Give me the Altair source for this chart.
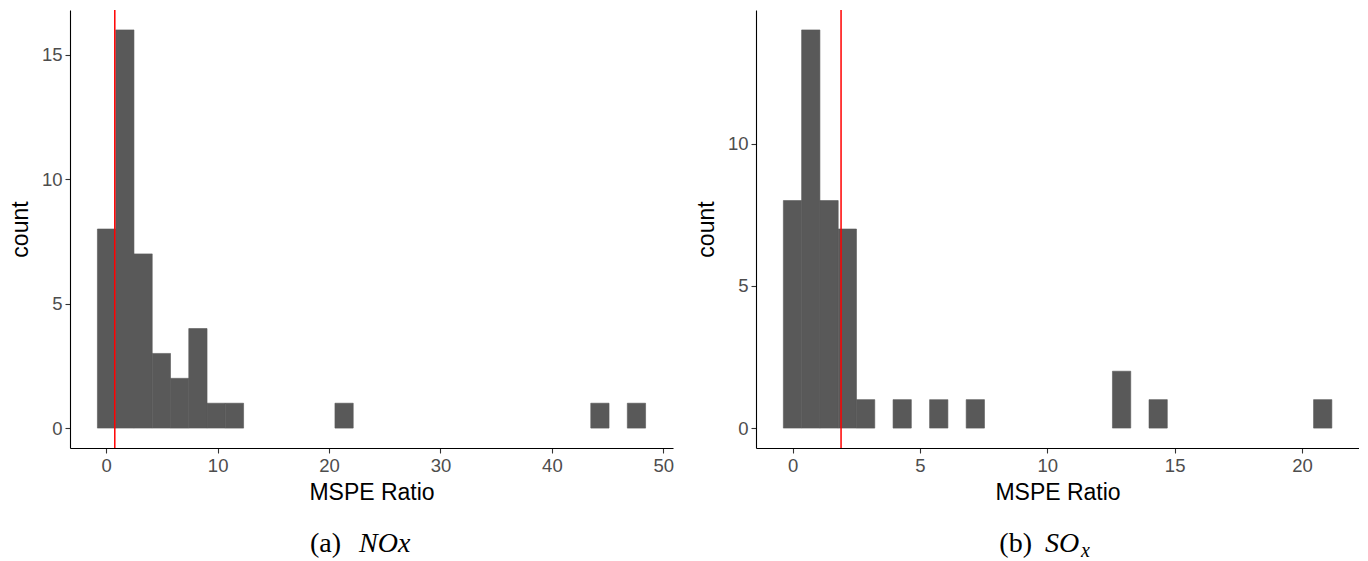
import altair as alt
import pandas as pd

# Histogram of MSPE ratios, 30 bins each (counts per bin, left to right)
nox_bin_start = -0.79
nox_bin_width = 1.64
nox_counts = [8, 16, 7, 3, 2, 4, 1, 1, 0, 0, 0, 0, 0, 1, 0,
              0, 0, 0, 0, 0, 0, 0, 0, 0, 0, 0, 0, 1, 0, 1]
nox_treated = 0.77
nox_xdomain = [-3.25, 50.87]
nox_ydomain = [-0.8, 16.8]
nox_xticks = [0, 10, 20, 30, 40, 50]
nox_yticks = [0, 5, 10, 15]

sox_bin_start = -0.366
sox_bin_width = 0.718
sox_counts = [8, 14, 8, 7, 1, 0, 1, 0, 1, 0, 1, 0, 0, 0, 0,
              0, 0, 0, 2, 0, 1, 0, 0, 0, 0, 0, 0, 0, 0, 1]
sox_treated = 1.90
sox_xdomain = [-1.44, 22.24]
sox_ydomain = [-0.7, 14.7]
sox_xticks = [0, 5, 10, 15, 20]
sox_yticks = [0, 5, 10]

PANEL_W = 603
PANEL_H = 438
BAR_FILL = "#595959"
SANS = "Liberation Sans"
SERIF = "Liberation Serif"


def bins_frame(start, width, counts):
    rows = []
    for i, c in enumerate(counts):
        if c > 0:
            lo = start + i * width
            rows.append({"lo": lo, "hi": lo + width, "count": c})
    return pd.DataFrame(rows)


def panel(start, width, counts, treated, xdom, ydom, xticks, yticks, label, parts):
    bars_df = bins_frame(start, width, counts)
    xscale = alt.Scale(domain=xdom, nice=False, zero=False)
    yscale = alt.Scale(domain=ydom, nice=False, zero=False)

    bars = alt.Chart(bars_df).mark_rect(
        fill=BAR_FILL, stroke=BAR_FILL, strokeWidth=0.6
    ).encode(
        x=alt.X("lo:Q", scale=xscale,
                axis=alt.Axis(title="MSPE Ratio", values=xticks, titlePadding=7)),
        x2="hi:Q",
        y=alt.Y("count:Q", scale=yscale,
                axis=alt.Axis(title="count", values=yticks, titlePadding=9)),
        y2=alt.datum(0),
    )

    rule = alt.Chart(pd.DataFrame({"v": [treated]})).mark_rule(
        color="#FF0000", strokeWidth=1.5
    ).encode(x=alt.X("v:Q", scale=xscale))

    layers = [bars, rule]

    # caption beneath the panel: upright label, then italic symbol
    cap_y = PANEL_H + 104
    layers.append(
        alt.Chart(pd.DataFrame({"t": [label]})).mark_text(
            font=SERIF, fontSize=28, align="right", baseline="alphabetic", color="black"
        ).encode(text="t:N", x=alt.value(parts[0]), y=alt.value(cap_y))
    )
    for txt, dx, dy, size in parts[1]:
        layers.append(
            alt.Chart(pd.DataFrame({"t": [txt]})).mark_text(
                font=SERIF, fontSize=size, fontStyle="italic", align="left",
                baseline="alphabetic", color="black"
            ).encode(text="t:N", x=alt.value(dx), y=alt.value(cap_y + dy))
        )

    return alt.layer(*layers).properties(width=PANEL_W, height=PANEL_H)


left = panel(nox_bin_start, nox_bin_width, nox_counts, nox_treated,
             nox_xdomain, nox_ydomain, nox_xticks, nox_yticks,
             "(a)", (271, [("NOx", 289, 0, 28)]))
right = panel(sox_bin_start, sox_bin_width, sox_counts, sox_treated,
              sox_xdomain, sox_ydomain, sox_xticks, sox_yticks,
              "(b)", (276, [("SO", 289, 0, 28), ("x", 325, 5, 20)]))

chart = alt.hconcat(left, right, spacing=21).properties(
    padding={"left": 9, "top": 9, "right": 0, "bottom": 0},
    background="white",
).configure_view(stroke=None).configure_axis(
    grid=False,
    domainColor="black",
    domainWidth=1.1,
    tickColor="#333333",
    tickWidth=1.1,
    tickSize=5,
    labelColor="#4D4D4D",
    labelFont=SANS,
    labelFontSize=18.5,
    labelPadding=3,
    titleFont=SANS,
    titleFontSize=23,
    titleFontWeight="normal",
    titleColor="black",
)

chart.save("out.html", embed_options={"renderer": "svg", "actions": False})
